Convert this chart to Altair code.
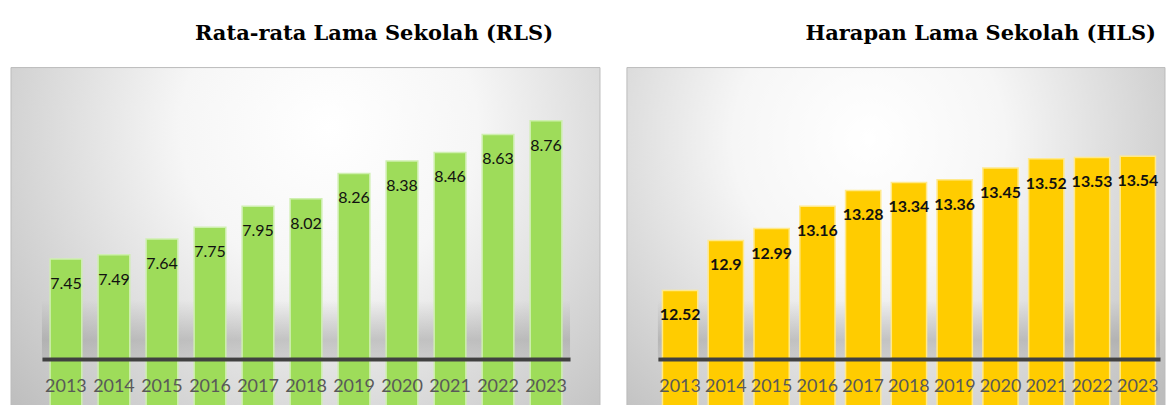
import altair as alt
import pandas as pd

years = ["2013", "2014", "2015", "2016", "2017", "2018", "2019", "2020", "2021", "2022", "2023"]
rls = [7.45, 7.49, 7.64, 7.75, 7.95, 8.02, 8.26, 8.38, 8.46, 8.63, 8.76]
hls = [12.52, 12.9, 12.99, 13.16, 13.28, 13.34, 13.36, 13.45, 13.52, 13.53, 13.54]
titles = ["Rata-rata Lama Sekolah (RLS)", "Harapan Lama Sekolah (HLS)"]

H = 264


def radial(cx, cy):
    return {
        "gradient": "radial",
        "x1": cx, "y1": cy, "r1": 0,
        "x2": cx, "y2": cy, "r2": 0.72,
        "stops": [
            {"offset": 0, "color": "#ffffff"},
            {"offset": 0.35, "color": "#f6f6f6"},
            {"offset": 1, "color": "#bdbdbd"},
        ],
    }


shade_grad = {
    "gradient": "linear",
    "x1": 0, "y1": 0, "x2": 0, "y2": 1,
    "stops": [
        {"offset": 0, "color": "rgba(140,140,140,0)"},
        {"offset": 0.7, "color": "rgba(140,140,140,0.4)"},
        {"offset": 1, "color": "rgba(150,150,150,0.3)"},
    ],
}


def panel(values, domain, fill, stroke, weight, pin, pout, W, title, title_x, cx, cy, rect_x2):
    df = pd.DataFrame({"year": years, "value": values})
    base = alt.Chart(df)
    x = alt.X(
        "year:O", title=None, sort=None,
        scale=alt.Scale(paddingInner=pin, paddingOuter=pout),
        axis=alt.Axis(
            labelAngle=0, ticks=False, tickSize=0, labelPadding=18,
            labelFont="Lato", labelFontSize=18, labelColor="#595959",
            domainColor="#404040", domainWidth=4, zindex=1, grid=False,
        ),
    )
    y = alt.Y("value:Q", scale=alt.Scale(domain=domain, zero=False, nice=False), axis=None)
    bars = base.mark_bar(color=fill, stroke=stroke, strokeWidth=1.5).encode(x=x, y=y)
    labels = base.mark_text(
        dy=25, font="Lato", fontSize=16, fontWeight=weight, color="#111111"
    ).encode(x=x, y=y, text=alt.Text("value:Q", format=""))
    one = alt.Chart(pd.DataFrame({"k": [0]}))
    bg = one.mark_rect(fill=radial(cx, cy), stroke="#bcbcbc", strokeWidth=1).encode(
        x=alt.value(-31), x2=alt.value(rect_x2), y=alt.value(-28), y2=alt.value(330)
    )
    shade = one.mark_rect(fill=shade_grad).encode(
        x=alt.value(0), x2=alt.value(W), y=alt.value(205), y2=alt.value(H - 2)
    )
    ttl = one.mark_text(
        text=title, font="DejaVu Serif", fontWeight="bold", fontSize=21,
        align="right", baseline="alphabetic", color="#000000",
    ).encode(x=alt.value(title_x), y=alt.value(-56))
    return alt.layer(bg, shade, bars, labels, ttl).properties(width=W, height=H)


left = panel(rls, [6.5, 9.0], "#9edc5a", "#cfefb0", "normal", 0.34, 0.17, 529,
             titles[0], 512, 0.54, 0.3, 559)
right = panel(hls, [12.0, 14.0], "#ffcc00", "#ffe98c", "bold", 0.23, 0.1, 503,
              titles[1], 499, 0.45, 0.3, 508)

chart = (
    alt.hconcat(left, right, spacing=25)
    .properties(padding={"left": 2, "top": 13, "right": 0, "bottom": 0})
    .configure_view(stroke=None)
)

chart.save("out.html", embed_options={"renderer": "svg", "actions": False})
